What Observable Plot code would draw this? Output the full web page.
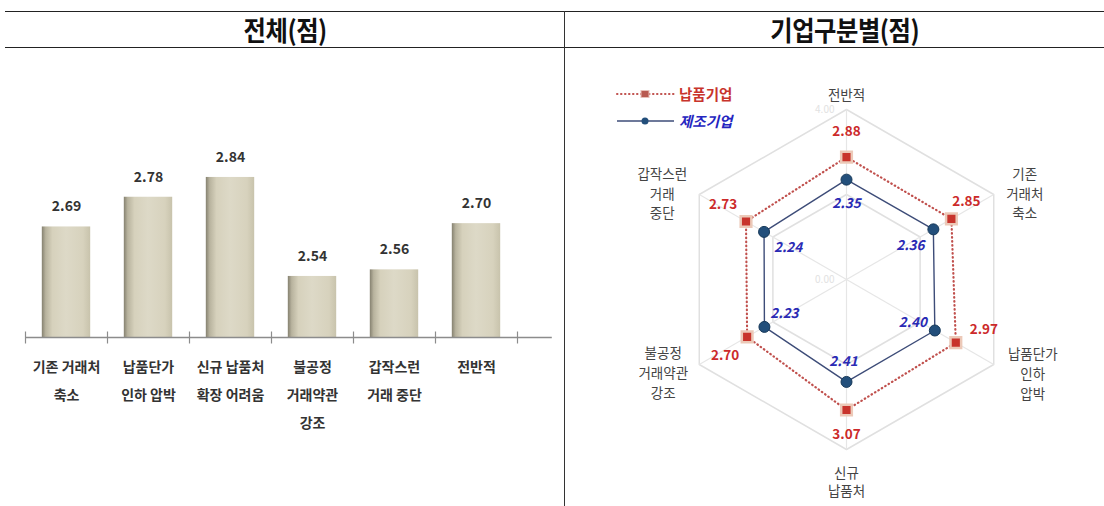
<!DOCTYPE html>
<html><head><meta charset="utf-8">
<script src="https://cdn.jsdelivr.net/npm/d3@7"></script>
<script src="https://cdn.jsdelivr.net/npm/@observablehq/plot@0.6"></script>
<style>
body{margin:0;background:#fff;width:1104px;height:506px;overflow:hidden;position:relative;font-family:"Noto Sans CJK KR",sans-serif;}
.hl{position:absolute;left:5px;right:0;height:0;border-top:1.5px solid #222;}
.title{position:absolute;top:12px;height:36px;line-height:36px;width:560px;text-align:center;}
.title span{display:inline-block;font-size:27px;font-weight:700;color:#111;transform:scaleX(0.9);letter-spacing:-0.5px;}
#legend{position:absolute;left:614px;top:80px;font-size:14.5px;font-weight:700;}
#legend .row{display:flex;align-items:center;height:27px;}
#legend svg{margin-right:3px;}
</style></head><body>
<div class="hl" style="top:11px"></div>
<div class="hl" style="top:47px"></div>
<div style="position:absolute;left:564px;top:11px;bottom:0;border-left:1.5px solid #333"></div>
<div class="title" style="left:5px"><span id="t1"></span></div>
<div class="title" style="left:565px"><span id="t2"></span></div>
<div id="bar" style="position:absolute;left:0;top:60px;"></div>
<div id="radar" style="position:absolute;left:566px;top:49px;width:538px;height:457px;overflow:hidden;"></div>
<div id="legend"></div>
<script>
// ---- data ----
const panelTitles = ["전체(점)", "기업구분별(점)"];
const barCategories = ["기존 거래처\n축소", "납품단가\n인하 압박", "신규 납품처\n확장 어려움", "불공정\n거래약관\n강조", "갑작스런\n거래 중단", "전반적"];
const barValues = [2.69, 2.78, 2.84, 2.54, 2.56, 2.70];
const radarAxes = ["전반적", "기존\n거래처\n축소", "납품단가\n인하\n압박", "신규\n납품처", "불공정\n거래약관\n강조", "갑작스런\n거래\n중단"];
const seriesNames = ["납품기업", "제조기업"];
const supplierValues = [2.88, 2.85, 2.97, 3.07, 2.70, 2.73];
const makerValues = [2.35, 2.36, 2.40, 2.41, 2.23, 2.24];
const radarTicks = [0, 2, 4];

document.getElementById("t1").textContent = panelTitles[0];
document.getElementById("t2").textContent = panelTitles[1];

const FONT = '"Noto Sans CJK KR", sans-serif';

// ---- bar chart ----
const barData = barCategories.map((c, i) => ({i, c, v: barValues[i]}));
const bk = 330, v0 = 2.355, baseY = 277, step = 82, firstCenter = 66, BW = 560, BH = 380;
const hw = 0.295;
const xDom = [-firstCenter / step, (BW - firstCenter) / step];
const bar = Plot.plot({
  width: BW, height: BH, margin: 0,
  style: {fontFamily: FONT, background: "transparent"},
  x: {domain: xDom, axis: null},
  y: {domain: [v0, v0 + baseY / bk], range: [baseY, 0], axis: null},
  marks: [
    Plot.rect(barData, {x1: d => d.i - hw, x2: d => d.i + hw, y1: v0, y2: d => d.v, fill: "url(#barGrad)"}),
    Plot.ruleY(barData, {y: d => d.v, x1: d => d.i - hw, x2: d => d.i + hw, stroke: "url(#topGrad)", strokeWidth: 5, dy: 2.5}),
    Plot.ruleY([v0], {x1: -0.5, x2: xDom[1] - 0.1, stroke: "#8c8c8c", strokeWidth: 1.5}),
    Plot.link(d3.range(barCategories.length + 1), {x1: d => d - 0.5, x2: d => d - 0.5, y1: v0 - 6 / bk, y2: v0 + 6 / bk, stroke: "#8c8c8c", strokeWidth: 1.2}),
    Plot.text(barData, {x: "i", y: "v", text: d => d.v.toFixed(2), dy: -20, fontSize: 14, fontWeight: 700, fill: "#333"}),
    Plot.text(barData, {x: "i", y: v0, text: "c", lineAnchor: "top", dy: 15, lineHeight: 2, fontSize: 14, fontWeight: 700, fill: "#333"})
  ]
});
d3.select(bar).insert("defs", ":first-child").html(`
  <linearGradient id="barGrad" x1="0" x2="1" y1="0" y2="0">
    <stop offset="0" stop-color="#858170"/>
    <stop offset="0.08" stop-color="#b8b39e"/>
    <stop offset="0.22" stop-color="#d6d1bc"/>
    <stop offset="0.5" stop-color="#ddd9c7"/>
    <stop offset="0.85" stop-color="#d7d2bd"/>
    <stop offset="1" stop-color="#c8c3ac"/>
  </linearGradient>
  <linearGradient id="topGrad" x1="0" x2="1" y1="0" y2="0">
    <stop offset="0" stop-color="#6e6a5a"/>
    <stop offset="0.5" stop-color="#7c7866"/>
    <stop offset="1" stop-color="#8a8674"/>
  </linearGradient>`);
document.getElementById("bar").append(bar);

// ---- radar chart ----
const K = 42.5, W = 538, H = 457, CX = 280, CY = 230;
const ang = i => i * Math.PI / 3;
const pt = (v, i) => ({x: v * Math.sin(ang(i)), y: v * Math.cos(ang(i)), v, i});
const supPts = supplierValues.map(pt);
const makPts = makerValues.map(pt);
const hex = L => radarAxes.map((a, i) => pt(L, i));
const gridLevels = radarTicks.filter(t => t > 0);
const rMax = d3.max(radarTicks);

const supOff = [[0, -25], [15, -17], [28, -13], [0, 25], [-22, 19], [-23, -17]];
const makOff = [[0, 24], [-23, 16], [-22, -8], [-3, -20], [20, -13], [24, 16]];
const catLayout = [
  {r: 4.38, dx: 0, dy: 0, la: "middle", lh: 1.48},
  {r: 4.3, dx: 20, dy: 4, la: "middle", lh: 1.48},
  {r: 4.3, dx: 28, dy: 2, la: "middle", lh: 1.48},
  {r: 4.38, dx: 0, dy: -1, la: "top", lh: 1.38},
  {r: 4.3, dx: -25, dy: 1, la: "middle", lh: 1.48},
  {r: 4.3, dx: -26, dy: 4, la: "middle", lh: 1.48}
];

const radarMarks = [
  ...gridLevels.map(L => Plot.line(hex(L), {x: "x", y: "y", curve: "linear-closed", stroke: "#e0e0e0", strokeWidth: 1.5})),
  Plot.link(hex(rMax), {x1: 0, y1: 0, x2: "x", y2: "y", stroke: "#e6e6e6", strokeWidth: 1.2}),
  Plot.text(radarTicks.filter(t => t !== 2), {x: 0, y: d => d, text: d => d.toFixed(2), textAnchor: "end", dx: -12, fontSize: 10, fill: "#e2e2e2"}),
  Plot.line(makPts, {x: "x", y: "y", curve: "linear-closed", stroke: "#3d4c78", strokeWidth: 1.4}),
  Plot.line(supPts, {x: "x", y: "y", curve: "linear-closed", stroke: "#c0504d", strokeWidth: 2.2, strokeDasharray: "0.5,3.5", strokeLinecap: "round"}),
  Plot.dot(supPts, {x: "x", y: "y", symbol: "square", r: 6, fill: "#c8342c", stroke: "#ecc9b8", strokeWidth: 2.5}),
  Plot.dot(makPts, {x: "x", y: "y", r: 5.5, fill: "#234f7b", stroke: "#173959", strokeWidth: 1}),
  ...supPts.map((p, i) => Plot.text([p], {x: "x", y: "y", text: d => d.v.toFixed(2), dx: supOff[i][0], dy: supOff[i][1], fontSize: 13.5, fontWeight: 700, fill: "#cc2a2a"})),
  ...makPts.map((p, i) => Plot.text([p], {x: "x", y: "y", text: d => d.v.toFixed(2), dx: makOff[i][0], dy: makOff[i][1], fontSize: 13.5, fontWeight: 700, fontStyle: "italic", fill: "#2a2ab4"})),
  ...radarAxes.map((a, i) => Plot.text([pt(catLayout[i].r, i)], {x: "x", y: "y", text: () => a, dx: catLayout[i].dx, dy: catLayout[i].dy, lineAnchor: catLayout[i].la, lineHeight: catLayout[i].lh, fontSize: 13.5, fill: "#444"}))
];

const radar = Plot.plot({
  width: W, height: H, margin: 0,
  style: {fontFamily: FONT, background: "transparent"},
  x: {domain: [-CX / K, (W - CX) / K], axis: null},
  y: {domain: [-(H - CY) / K, CY / K], axis: null},
  marks: radarMarks
});
document.getElementById("radar").append(radar);

// ---- legend ----
const legend = document.getElementById("legend");
legend.innerHTML = `
<div class="row"><svg width="62" height="14"><line x1="3" x2="60" y1="7" y2="7" stroke="#c0504d" stroke-width="2" stroke-dasharray="0.5,3.5" stroke-linecap="round"/><rect x="27" y="3.5" width="8" height="7" fill="#b85a50" stroke="#e8c0b8"/></svg><span style="color:#c8342c">${seriesNames[0]}</span></div>
<div class="row"><svg width="62" height="14"><line x1="3" x2="60" y1="7" y2="7" stroke="#3d4c78" stroke-width="1.4"/><circle cx="31" cy="7" r="3.5" fill="#234f7b"/></svg><span style="color:#2525c0;font-style:italic">${seriesNames[1]}</span></div>`;
</script>
</body></html>
